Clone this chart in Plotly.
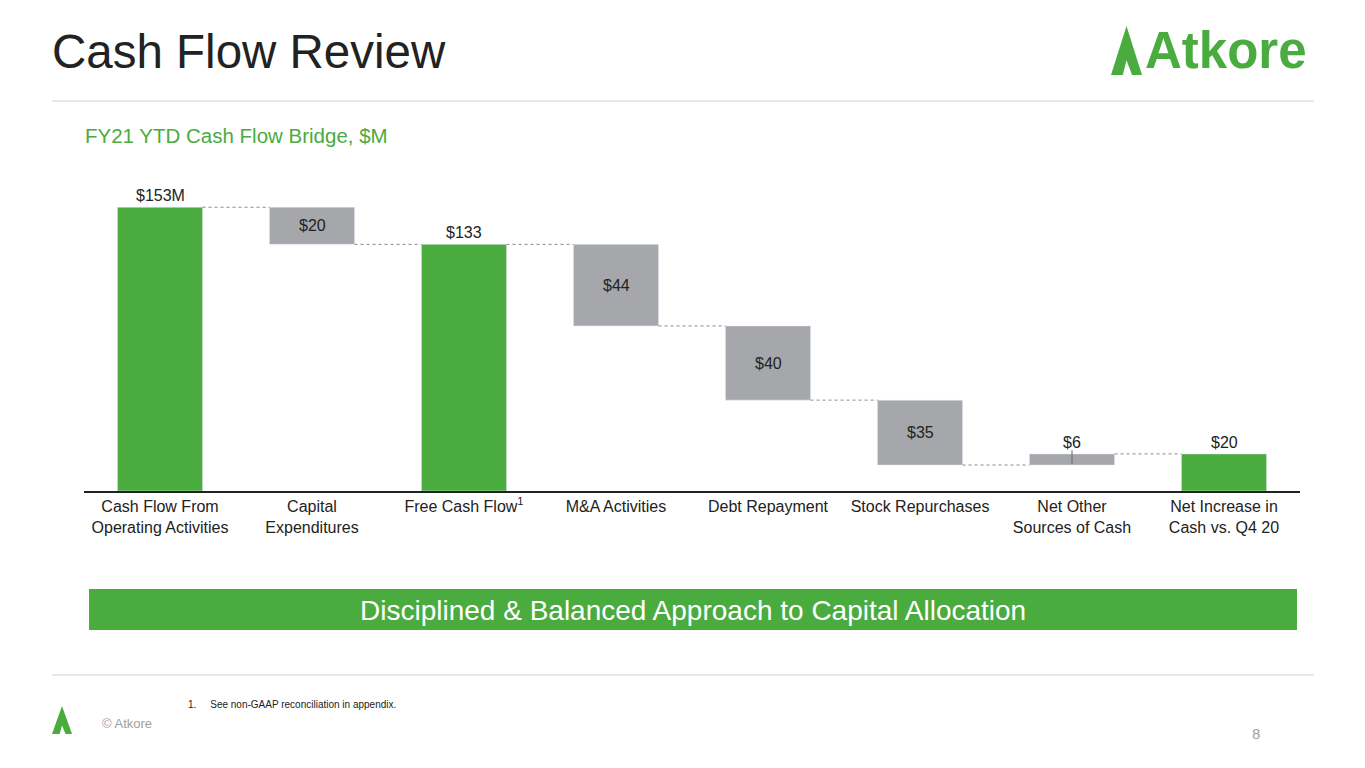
import plotly.graph_objects as go

GREEN = '#4AAB3F'
GRAY = '#A5A7AA'

categories = ['Cash Flow From<br>Operating Activities', 'Capital<br>Expenditures',
              'Free Cash Flow<sup>1</sup>', 'M&A Activities', 'Debt Repayment',
              'Stock Repurchases', 'Net Other<br>Sources of Cash', 'Net Increase in<br>Cash vs. Q4 20']
values = [153, -20, 133, -44, -40, -35, 6, 20]
kinds = ['total', 'delta', 'total', 'delta', 'delta', 'delta', 'delta', 'total']
labels = ['$153M', '$20', '$133', '$44', '$40', '$35', '$6', '$20']

OX, OY = 8, 8
L, T, B = 84 - OX, 185 - OY, 277 + OY
PW, PH = 1216, 491 - 185

# compute bases for the floating bars
bases, heights, tops = [], [], []
level = 0
for v, k in zip(values, kinds):
    if k == 'total':
        bases.append(0); heights.append(v); level = v
    else:
        new = level + v
        bases.append(min(level, new)); heights.append(abs(v)); level = new
    tops.append(level)

colors = [GREEN if k == 'total' else GRAY for k in kinds]
font = 'Liberation Sans, Arial'

fig = go.Figure(go.Bar(
    x=list(range(len(categories))), y=heights, base=bases,
    marker_color=colors, width=0.56, showlegend=False, hoverinfo='skip'
))

fig.update_layout(
    width=1365, height=768, autosize=False,
    margin=dict(l=L, r=1365 - L - PW, t=T, b=B),
    plot_bgcolor='white', paper_bgcolor='white',
)

def px(x):
    return (x - 84) / PW

def py(y):
    return (491 - y) / PH

# value labels
for i, (lab, k, b, h) in enumerate(zip(labels, kinds, bases, heights)):
    inside = k == 'delta' and h > 15
    fig.add_annotation(x=i, y=(b + h / 2) if inside else (b + h), text=lab, showarrow=False,
                       yanchor='middle' if inside else 'bottom', yshift=0 if inside else 1,
                       font=dict(family=font, size=16, color='#222'))

# connectors
for i in range(len(values) - 1):
    fig.add_shape(type='line', xref='x', yref='y', x0=i + 0.28, x1=i + 0.72,
                  y0=tops[i], y1=tops[i], line=dict(color='#8A8A8A', width=1, dash='dot'))

# small tick on the $6 bar
fig.add_shape(type='line', xref='x', yref='y', x0=6, x1=6, y0=tops[5] + 0.5, y1=tops[6] + 2,
              line=dict(color='#666', width=1))

fig.update_xaxes(tickmode='array', tickvals=list(range(len(categories))), ticktext=categories,
                 range=[-0.5, len(categories) - 0.5], showline=True, linecolor='#222', linewidth=1.5,
                 ticks='', tickfont=dict(family=font, size=16, color='#222'), showgrid=False)
fig.update_yaxes(range=[0, 165], visible=False, showgrid=False)

for yy in (101, 675):
    fig.add_shape(type='line', xref='paper', yref='paper', x0=px(52), x1=px(1314), y0=py(yy), y1=py(yy),
                  line=dict(color='#CFCFCF', width=1))
fig.add_shape(type='rect', xref='paper', yref='paper', x0=px(89), x1=px(1297), y0=py(630), y1=py(589),
              fillcolor=GREEN, line=dict(width=0))

def triangle(x0, x1, ytop, ybot):
    xm = (x0 + x1) / 2
    w = x1 - x0
    h = ybot - ytop
    outer = 'M %f %f L %f %f L %f %f Z' % (px(x0), py(ybot), px(xm), py(ytop), px(x1), py(ybot))
    inner = 'M %f %f L %f %f L %f %f Z' % (px(xm - w * 0.12), py(ybot), px(xm), py(ybot - h * 0.3),
                                           px(xm + w * 0.18), py(ybot))
    fig.add_shape(type='path', xref='paper', yref='paper', path=outer, fillcolor=GREEN, line=dict(width=0))
    fig.add_shape(type='path', xref='paper', yref='paper', path=inner, fillcolor='white', line=dict(width=0))

triangle(1111, 1142, 26, 75)
triangle(52, 72, 706, 734)

def note(x, y, text, size, color='#222', xanchor='left'):
    fig.add_annotation(xref='paper', yref='paper', x=px(x), y=py(y), text=text,
                       showarrow=False, xanchor=xanchor, yanchor='middle',
                       font=dict(family=font, size=size, color=color))

note(50, 51, 'Cash Flow Review', 47.5)
note(1143, 50, '<b>Atkore</b>', 51, GREEN)
note(83, 136, 'FY21 YTD Cash Flow Bridge, $M', 20.5, GREEN)
note(693, 610, 'Disciplined &amp; Balanced Approach to Capital Allocation', 28, 'white', 'center')
note(186, 704, '1.     See non-GAAP reconciliation in appendix.', 10)
note(100, 723, '© Atkore', 13, '#A0A0A0')
note(1262, 733, '8', 15, '#A0A0A0', 'right')

fig.write_html('out.html')
